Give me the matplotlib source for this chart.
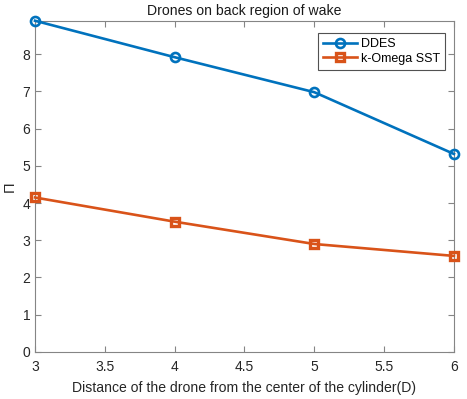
import matplotlib
matplotlib.use("Agg")
import matplotlib.pyplot as plt

plt.rcParams['font.family'] = ['Liberation Sans', 'DejaVu Sans']

distance = [3, 4, 5, 6]
ddes = [8.90, 7.92, 6.98, 5.32]
komega = [4.15, 3.50, 2.90, 2.58]
xticks = [3, 3.5, 4, 4.5, 5, 5.5, 6]
xticklabels = ['3', '3.5', '4', '4.5', '5', '5.5', '6']
yticks = [0, 1, 2, 3, 4, 5, 6, 7, 8]

fig = plt.figure(figsize=(4.67, 3.99), dpi=100)
ax = fig.add_axes([0.075, 0.118, 0.897, 0.83])

ax.plot(distance, ddes, color='#0072BD', lw=1.9, marker='o', ms=6.5,
        mfc='none', mew=1.9, label='DDES', clip_on=False, zorder=3)
ax.plot(distance, komega, color='#D95319', lw=1.9, marker='s', ms=5.5,
        mfc='none', mew=2.4, label='k-Omega SST', clip_on=False, zorder=3)

ax.set_xlim(3, 6)
ax.set_ylim(0, max(ddes))
ax.set_xticks(xticks)
ax.set_xticklabels(xticklabels)
ax.set_yticks(yticks)

axcol = '#858585'
for s in ax.spines.values():
    s.set_color(axcol)
    s.set_linewidth(0.8)
ax.tick_params(direction='in', length=4, width=0.8, color=axcol,
               labelcolor='#262626', labelsize=10, top=True, right=True)
ax.tick_params(axis='x', pad=6)

ax.set_title('Drones on back region of wake', fontsize=10.1, color='#1a1a1a', pad=4)
ax.set_xlabel('Distance of the drone from the center of the cylinder(D)', fontsize=10.1,
              color='#262626', labelpad=5)
ax.set_ylabel('Π', fontsize=10.5, color='#262626')
ax.yaxis.set_label_coords(-0.044, 0.5)

leg = ax.legend(loc='upper right', bbox_to_anchor=(0.978, 0.962), fontsize=9,
                frameon=True, fancybox=False, handlelength=2.7, borderpad=0.4,
                labelspacing=0.2, handletextpad=0.3, borderaxespad=0)
leg.get_frame().set_edgecolor('#262626')
leg.get_frame().set_linewidth(0.8)

fig.savefig('out.png', dpi=100)
